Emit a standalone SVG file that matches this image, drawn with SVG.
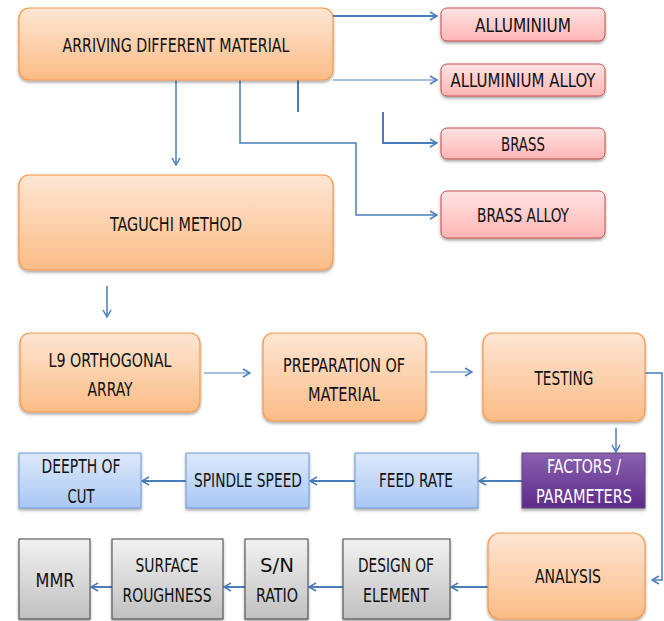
<svg xmlns="http://www.w3.org/2000/svg" width="664" height="621" viewBox="0 0 664 621">
<defs>
<linearGradient id="gOr" x1="0" y1="0" x2="0" y2="1"><stop offset="0" stop-color="#fde6d4"/><stop offset="1" stop-color="#fbbc86"/></linearGradient>
<linearGradient id="gPk" x1="0" y1="0" x2="0" y2="1"><stop offset="0" stop-color="#ffe3e3"/><stop offset="1" stop-color="#ffb5b5"/></linearGradient>
<linearGradient id="gBl" x1="0" y1="0" x2="0" y2="1"><stop offset="0" stop-color="#dde9fb"/><stop offset="1" stop-color="#a9c7f3"/></linearGradient>
<linearGradient id="gGy" x1="0" y1="0" x2="0" y2="1"><stop offset="0" stop-color="#f2f2f2"/><stop offset="1" stop-color="#c0c0c0"/></linearGradient>
<linearGradient id="gPu" x1="0" y1="0" x2="0" y2="1"><stop offset="0" stop-color="#8a61b0"/><stop offset="1" stop-color="#5e2b8a"/></linearGradient>
<filter id="sh" x="-5%" y="-10%" width="110%" height="130%"><feDropShadow dx="0" dy="2" stdDeviation="1.5" flood-color="#000" flood-opacity="0.35"/></filter>
<marker id="ar" markerUnits="userSpaceOnUse" markerWidth="10" markerHeight="10" refX="9" refY="5" orient="auto"><path d="M2,1 L9,5 L2,9" fill="none" stroke="#4a7ebb" stroke-width="1.5"/></marker>
</defs>
<style>
.or{fill:url(#gOr);stroke:#f79646;stroke-width:1.2;filter:url(#sh)}
.pk{fill:url(#gPk);stroke:#c0504d;stroke-width:1;filter:url(#sh)}
.bl{fill:url(#gBl);stroke:#6a98d6;stroke-width:1;filter:url(#sh)}
.gy{fill:url(#gGy);stroke:#404040;stroke-width:1;filter:url(#sh)}
.pu{fill:url(#gPu);stroke:#5f497a;stroke-width:1;filter:url(#sh)}
text{font-family:"Liberation Sans Narrow","DejaVu Sans Condensed","Liberation Sans",sans-serif;font-size:19.5px;fill:#111;text-anchor:middle}
.w{fill:#fff}
.c{fill:none;stroke:#4a7ebb;stroke-width:1.5}
.t{stroke-width:1}
.k{stroke-width:2}
</style>
<g id="connectors">
<path class="c k" d="M333,16 H437" marker-end="url(#ar)"/>
<path class="c t" d="M333,80 H437" marker-end="url(#ar)"/>
<path class="c k" d="M298,80 V112"/>
<path class="c k" d="M383,112 V143 H437" marker-end="url(#ar)"/>
<path class="c" d="M240,80 V143 H356 V215 H437" marker-end="url(#ar)"/>
<path class="c" d="M176,80 V165" marker-end="url(#ar)"/>
<path class="c" d="M107,286 V317" marker-end="url(#ar)"/>
<path class="c t" d="M204,373 H250" marker-end="url(#ar)"/>
<path class="c t" d="M430,372 H472" marker-end="url(#ar)"/>
<path class="c" d="M645,373 H662 V580 H652" marker-end="url(#ar)"/>
<path class="c" d="M616,428 V452" marker-end="url(#ar)"/>
<path class="c k" d="M522,481 H479" marker-end="url(#ar)"/>
<path class="c k" d="M355,481 H310" marker-end="url(#ar)"/>
<path class="c k" d="M186,481 H142" marker-end="url(#ar)"/>
<path class="c k" d="M488,587 H451" marker-end="url(#ar)"/>
<path class="c k" d="M343,587 H309" marker-end="url(#ar)"/>
<path class="c k" d="M245,587 H224" marker-end="url(#ar)"/>
<path class="c k" d="M112,587 H91" marker-end="url(#ar)"/>
</g>
<g id="n-arriving"><rect class="or" x="19" y="8" width="314" height="72" rx="10"/><text x="176" y="52" textLength="227" lengthAdjust="spacingAndGlyphs">ARRIVING DIFFERENT MATERIAL</text></g>
<g id="n-alum"><rect class="pk" x="441" y="8" width="164" height="33" rx="6"/><text x="523" y="32" textLength="96" lengthAdjust="spacingAndGlyphs">ALLUMINIUM</text></g>
<g id="n-alumalloy"><rect class="pk" x="441" y="64" width="164" height="32" rx="6"/><text x="523" y="87" textLength="145" lengthAdjust="spacingAndGlyphs">ALLUMINIUM ALLOY</text></g>
<g id="n-brass"><rect class="pk" x="441" y="128" width="164" height="31" rx="6"/><text x="523" y="151" textLength="44" lengthAdjust="spacingAndGlyphs">BRASS</text></g>
<g id="n-brassalloy"><rect class="pk" x="441" y="191" width="164" height="47" rx="6"/><text x="523" y="222" textLength="92" lengthAdjust="spacingAndGlyphs">BRASS ALLOY</text></g>
<g id="n-taguchi"><rect class="or" x="19" y="175" width="314" height="95" rx="10"/><text x="176" y="231" textLength="132" lengthAdjust="spacingAndGlyphs">TAGUCHI METHOD</text></g>
<g id="n-l9"><rect class="or" x="20" y="333" width="180" height="79" rx="10"/><text x="110" y="367" textLength="123" lengthAdjust="spacingAndGlyphs">L9 ORTHOGONAL</text><text x="110" y="396" textLength="45" lengthAdjust="spacingAndGlyphs">ARRAY</text></g>
<g id="n-prep"><rect class="or" x="263" y="333" width="163" height="88" rx="10"/><text x="344" y="372" textLength="122" lengthAdjust="spacingAndGlyphs">PREPARATION OF</text><text x="344" y="401" textLength="72" lengthAdjust="spacingAndGlyphs">MATERIAL</text></g>
<g id="n-testing"><rect class="or" x="483" y="333" width="162" height="88" rx="10"/><text x="564" y="385" textLength="59" lengthAdjust="spacingAndGlyphs">TESTING</text></g>
<g id="n-depth"><rect class="bl" x="19" y="453" width="122" height="55"/><text x="81" y="473" textLength="79" lengthAdjust="spacingAndGlyphs">DEEPTH OF</text><text x="81" y="503" textLength="27" lengthAdjust="spacingAndGlyphs">CUT</text></g>
<g id="n-spindle"><rect class="bl" x="186" y="453" width="123" height="55"/><text x="248" y="487" textLength="108" lengthAdjust="spacingAndGlyphs">SPINDLE SPEED</text></g>
<g id="n-feed"><rect class="bl" x="355" y="453" width="123" height="55"/><text x="416" y="487" textLength="74" lengthAdjust="spacingAndGlyphs">FEED RATE</text></g>
<g id="n-factors"><rect class="pu" x="522" y="453" width="123" height="55"/><text class="w" x="584" y="473" textLength="74" lengthAdjust="spacingAndGlyphs">FACTORS /</text><text class="w" x="584" y="503" textLength="96" lengthAdjust="spacingAndGlyphs">PARAMETERS</text></g>
<g id="n-mmr"><rect class="gy" x="19" y="539" width="71" height="80"/><text x="55" y="587" textLength="39" lengthAdjust="spacingAndGlyphs">MMR</text></g>
<g id="n-surface"><rect class="gy" x="112" y="539" width="111" height="80"/><text x="167" y="572" textLength="63" lengthAdjust="spacingAndGlyphs">SURFACE</text><text x="167" y="602" textLength="89" lengthAdjust="spacingAndGlyphs">ROUGHNESS</text></g>
<g id="n-sn"><rect class="gy" x="245" y="539" width="63" height="80"/><text x="277" y="572" textLength="34" lengthAdjust="spacingAndGlyphs">S/N</text><text x="277" y="602" textLength="42" lengthAdjust="spacingAndGlyphs">RATIO</text></g>
<g id="n-design"><rect class="gy" x="343" y="539" width="107" height="80"/><text x="396" y="572" textLength="76" lengthAdjust="spacingAndGlyphs">DESIGN OF</text><text x="396" y="602" textLength="66" lengthAdjust="spacingAndGlyphs">ELEMENT</text></g>
<g id="n-analysis"><rect class="or" x="488" y="533" width="157" height="86" rx="12"/><text x="568" y="583" textLength="66" lengthAdjust="spacingAndGlyphs">ANALYSIS</text></g>
</svg>
